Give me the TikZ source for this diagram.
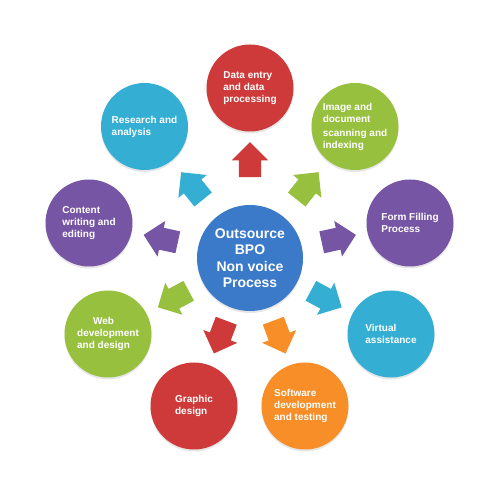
\documentclass[tikz,border=0pt]{standalone}
\usepackage{fontspec}
\setmainfont{Liberation Sans}
\usetikzlibrary{shapes.arrows, shadows}
\definecolor{bpoRed}{RGB}{206,58,58}
\definecolor{bpoCyan}{RGB}{52,175,211}
\definecolor{bpoGreen}{RGB}{151,192,62}
\definecolor{bpoPurple}{RGB}{118,85,165}
\definecolor{bpoOrange}{RGB}{247,142,40}
\definecolor{bpoBlue}{RGB}{58,122,200}
\tikzstyle{hub}=[circle, fill=bpoBlue, text=white, minimum size=106pt, inner sep=0pt, align=center, font=\fontsize{14}{16.5}\selectfont\bfseries, drop shadow={shadow xshift=0pt, shadow yshift=-2pt, opacity=.2}]
\tikzstyle{service}=[circle, text=white, minimum size=87pt, inner sep=0pt, align=left, font=\fontsize{10}{12}\selectfont\bfseries, drop shadow={shadow xshift=0pt, shadow yshift=-2pt, opacity=.2}]
\tikzstyle{pointer}=[single arrow, minimum height=35pt, minimum width=36pt, single arrow head extend=7pt, inner xsep=0pt, inner ysep=11pt, sloped, allow upside down]

\begin{document}
\begin{tikzpicture}[x=1pt, y=1pt]
	\useasboundingbox (0,0) rectangle (500,500);

	% Hub
	\node[hub] (hub) at (250,242) {Outsource\\BPO\\Non voice\\Process};

	% Services round the hub
	\node[service, fill=bpoRed]    (data)     at (250,412)   {Data entry\\and data\\processing};
	\node[service, fill=bpoGreen]  (image)    at (355,373.5) {Image and\\document\\[2pt]scanning and\\indexing};
	\node[service, fill=bpoPurple] (form)     at (410,277)   {Form Filling\\Process};
	\node[service, fill=bpoCyan]   (virtual)  at (391,166)   {Virtual\\assistance};
	\node[service, fill=bpoOrange] (software) at (305,94)    {Software\\development\\and testing};
	\node[service, fill=bpoRed]    (graphic)  at (194,94)    {Graphic\\design};
	\node[service, fill=bpoGreen]  (web)      at (108,166)   {\hspace*{16pt}Web\\development\\and design};
	\node[service, fill=bpoPurple] (content)  at (89,277)    {Content\\writing and\\editing};
	\node[service, fill=bpoCyan]   (research) at (144.5,373.5) {Research and\\analysis};

	% Block arrows from the hub
	\foreach \dest/\col/\p in {data/bpoRed/0.54, image/bpoGreen/0.47, form/bpoPurple/0.48,
		virtual/bpoCyan/0.44, software/bpoOrange/0.42, graphic/bpoRed/0.42,
		web/bpoGreen/0.44, content/bpoPurple/0.48, research/bpoCyan/0.47}{
		\path (hub) -- (\dest) node[pointer, fill=\col, pos=\p] {};
	}
\end{tikzpicture}
\end{document}
